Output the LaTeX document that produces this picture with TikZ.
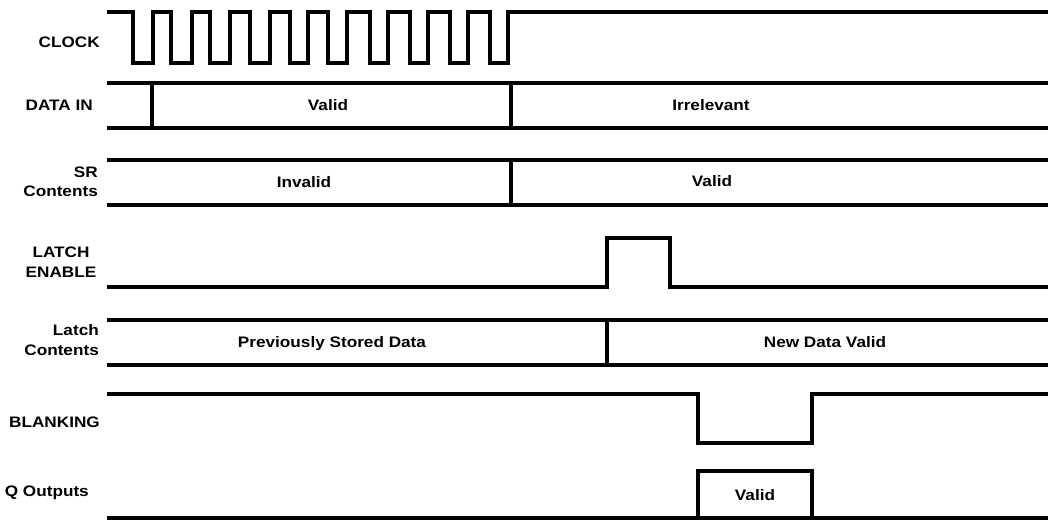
\documentclass[tikz,border=0pt]{standalone}
\usepackage{fontspec}
\setmainfont{Liberation Sans}[FakeStretch=1.13]
\usepackage{tikz}
\tikzstyle{wave} = [draw, line width=3.3pt, line join=miter]
\tikzstyle{lbl} = [inner sep=0pt, font=\bfseries\fontsize{15.2}{19.5}\selectfont]
\tikzstyle{val} = [inner sep=0pt, text height=10.9pt, text depth=0pt, font=\bfseries\fontsize{15.2}{19.5}\selectfont]

\begin{document}
\begin{tikzpicture}[x=1pt, y=-1pt]
		\useasboundingbox (0,0) rectangle (1048,521);
		
		% signal names
		\node [lbl, anchor=east] (clk) at (100,42) {CLOCK};
		\node [lbl, anchor=east] (din) at (93,105) {DATA IN};
		\node [lbl, anchor=east, align=right] (sr) at (98,182) {SR\\Contents};
		\node [lbl, align=center] (le) at (61,262) {LATCH\\ENABLE};
		\node [lbl, anchor=east, align=right] (lc) at (99,340) {Latch\\Contents};
		\node [lbl, anchor=east] (blank) at (100,422) {BLANKING};
		\node [lbl, anchor=east] (qout) at (89,493) {Q Outputs};
		
		% clock
		\path [wave] (107,12) -- (133,12) -- (133,63) -- (153,63) -- (153,12)
			-- (171,12) -- (171,63) -- (192,63) -- (192,12)
			-- (210,12) -- (210,63) -- (230,63) -- (230,12)
			-- (250,12) -- (250,63) -- (270,63) -- (270,12)
			-- (290,12) -- (290,63) -- (308,63) -- (308,12)
			-- (328,12) -- (328,63) -- (347,63) -- (347,12)
			-- (370,12) -- (370,63) -- (388,63) -- (388,12)
			-- (410,12) -- (410,63) -- (428,63) -- (428,12)
			-- (450,12) -- (450,63) -- (468,63) -- (468,12)
			-- (490,12) -- (490,63) -- (508,63) -- (508,12)
			-- (1048,12);
		
		% data in
		\path [wave] (107,83) -- (1048,83);
		\path [wave] (107,128) -- (1048,128);
		\path [wave] (152,83) -- (152,128);
		\path [wave] (511,83) -- (511,128);
		\node [val] (din1) at (328,105) {Valid};
		\node [val] (din2) at (711,105) {Irrelevant};
		
		% shift register
		\path [wave] (107,160) -- (1048,160);
		\path [wave] (107,205) -- (1048,205);
		\path [wave] (511,160) -- (511,205);
		\node [val] (sr1) at (304,182) {Invalid};
		\node [val] (sr2) at (712,181) {Valid};
		
		% latch enable
		\path [wave] (107,287) -- (607,287) -- (607,238) -- (670,238) -- (670,287) -- (1048,287);
		
		% latch contents
		\path [wave] (107,320) -- (1048,320);
		\path [wave] (107,365) -- (1048,365);
		\path [wave] (607,320) -- (607,365);
		\node [val] (lc1) at (332,342) {Previously Stored Data};
		\node [val] (lc2) at (825,342) {New Data Valid};
		
		% blanking
		\path [wave] (107,394) -- (698,394) -- (698,443) -- (812,443) -- (812,394) -- (1048,394);
		
		% outputs
		\path [wave] (107,518) -- (1048,518);
		\path [wave] (698,518) -- (698,471) -- (812,471) -- (812,518);
		\node [val] (q1) at (755,495) {Valid};
\end{tikzpicture}
\end{document}
